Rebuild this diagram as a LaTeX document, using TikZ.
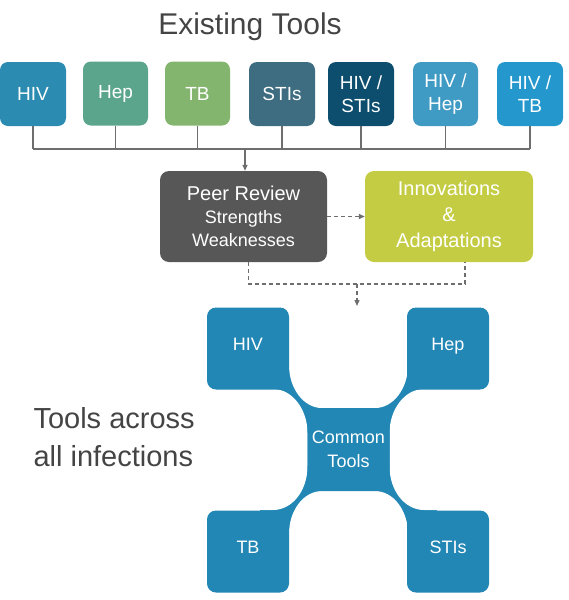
\documentclass[tikz,border=0pt]{standalone}
\usepackage{fontspec}
\setmainfont{Liberation Sans}
\usetikzlibrary{arrows.meta,backgrounds}
\definecolor{hivc}{HTML}{2B8BB0}
\definecolor{hepc}{HTML}{5AA58C}
\definecolor{tbc}{HTML}{84B56E}
\definecolor{stic}{HTML}{3E6C80}
\definecolor{hivstic}{HTML}{0D4D6D}
\definecolor{hivhepc}{HTML}{3F9AC4}
\definecolor{hivtbc}{HTML}{2497CD}
\definecolor{peerc}{HTML}{575757}
\definecolor{innovc}{HTML}{C4CC43}
\definecolor{commonc}{HTML}{2287B4}
\definecolor{wirec}{HTML}{6E6E6E}
\definecolor{titlec}{HTML}{444444}
\tikzset{
  tool/.style={rounded corners=8pt, minimum width=66pt, minimum height=64pt,
    inner sep=0pt, text=white, align=center, font=\fontsize{19}{23}\selectfont},
  stage/.style={rounded corners=9pt, minimum width=167pt, minimum height=91pt,
    inner sep=0pt, text=white, align=center},
  quad/.style={rounded corners=9pt, fill=commonc, minimum size=82pt,
    inner sep=0pt, text=white, font=\fontsize{18}{24}\selectfont, align=center},
  corner/.style={quad, text height=13pt, text depth=10pt},
  wire/.style={draw=wirec, line width=1.3pt},
  dwire/.style={wire, dash pattern=on 4pt off 3pt},
  tip/.style={-{Triangle[length=6pt,width=5pt]}},
  heading/.style={text=titlec, font=\fontsize{30}{38}\selectfont}
}
\begin{document}
\begin{tikzpicture}[x=1pt,y=-1pt]
\useasboundingbox (0,0) rectangle (568,600);
\node[heading] (title) at (250,27) {Existing Tools};
\node[tool, fill=hivc] (hiv) at (33,94) {HIV};
\node[tool, fill=hepc, minimum width=65pt] (hep) at (115.5,93.5) {Hep};
\node[tool, fill=tbc, minimum width=65pt] (tb) at (197.5,93.5) {TB};
\node[tool, fill=stic] (stis) at (282,94) {STIs};
\node[tool, fill=hivstic] (hivstis) at (361,94) {HIV /\\STIs};
\node[tool, fill=hivhepc, minimum width=65pt] (hivhep) at (445.5,94) {HIV /\\Hep};
\node[tool, fill=hivtbc] (hivtb) at (530,94) {HIV /\\TB};
\coordinate (bus) at (245,149);
\foreach \n in {hiv,hep,tb,stis,hivstis,hivhep,hivtb}
  \draw[wire] (\n.south) -- (\n.south |- bus);
\draw[wire] (hiv.south |- bus) -- (hivtb.south |- bus);
\node[stage, fill=peerc, font=\fontsize{18}{23}\selectfont] (peer) at (243.5,216.5)
  {{\fontsize{20}{24}\selectfont Peer Review}\\Strengths\\Weaknesses};
\node[stage, fill=innovc, minimum width=168pt, font=\fontsize{20}{26}\selectfont] (innov) at (449,216.5)
  {Innovations\\\&\\Adaptations};
\draw[wire, tip] (bus) -- (bus |- peer.north);
\draw[dwire, tip] (peer) -- (innov);
\coordinate (merge) at (357,284);
\coordinate (drop) at (357,306);
\draw[dwire] ([xshift=5pt]peer.south) |- (merge) -| ([xshift=16pt]innov.south);
\draw[dwire, tip] (merge) -- (drop);
\node[heading, font=\fontsize{29}{38}\selectfont, align=left, anchor=west] (across) at (30,437)
  {Tools across\\all infections};
\node[corner] (hivq) at (248,348.5) {HIV};
\node[corner] (hepq) at (448,348.5) {Hep};
\node[corner] (tbq) at (248,551.5) {TB};
\node[corner] (stisq) at (448,551.5) {STIs};
\node[quad, minimum width=82pt, minimum height=83pt] (common) at (348.5,449.5) {Common\\Tools};
\begin{scope}[on background layer]
\fill[commonc] (260,360) rectangle (437,540);
\fill[white] (289,300) -- (289,365) .. controls (289,389) and (304,408) .. (322,408)
  -- (375,408) .. controls (393,408) and (408,389) .. (408,365) -- (408,300) -- cycle;
\fill[white] (289,599) -- (289,534) .. controls (289,510) and (304,491) .. (322,491)
  -- (375,491) .. controls (393,491) and (408,510) .. (408,534) -- (408,599) -- cycle;
\fill[white] (200,389) -- (273,389) .. controls (292,389) and (307.5,409) .. (307.5,433)
  -- (307.5,466) .. controls (307.5,491) and (292,510) .. (273,510) -- (200,510) -- cycle;
\fill[white] (497,389) -- (424,389) .. controls (405,389) and (389.5,409) .. (389.5,433)
  -- (389.5,466) .. controls (389.5,491) and (405,510) .. (424,510) -- (497,510) -- cycle;
\end{scope}
\end{tikzpicture}
\end{document}
